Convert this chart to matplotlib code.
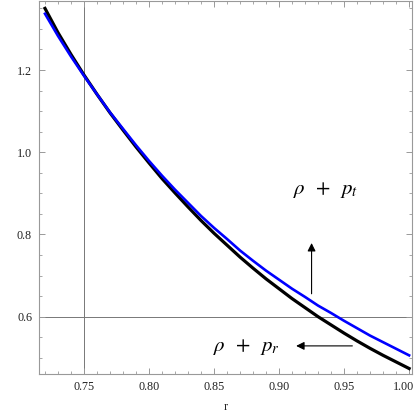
import numpy as np
import matplotlib
matplotlib.use('Agg')
import matplotlib.pyplot as plt
import matplotlib.transforms as mtransforms
from matplotlib.ticker import MultipleLocator

r = [0.72, 0.73, 0.74, 0.75, 0.76, 0.77, 0.78, 0.79, 0.80, 0.81,
     0.82, 0.83, 0.84, 0.85, 0.86, 0.87, 0.88, 0.89, 0.90, 0.91,
     0.92, 0.93, 0.94, 0.95, 0.96, 0.97, 0.98, 0.99, 1.00]
rho_pr = [1.350, 1.291, 1.238, 1.188, 1.141, 1.096, 1.054, 1.013, 0.974, 0.936,
          0.901, 0.867, 0.834, 0.803, 0.774, 0.745, 0.718, 0.692, 0.668, 0.644,
          0.622, 0.600, 0.580, 0.560, 0.541, 0.523, 0.506, 0.490, 0.474]
rho_pt = [1.337, 1.283, 1.233, 1.186, 1.141, 1.097, 1.057, 1.017, 0.979, 0.943,
          0.909, 0.877, 0.845, 0.816, 0.789, 0.761, 0.736, 0.712, 0.690, 0.668,
          0.648, 0.627, 0.609, 0.590, 0.572, 0.554, 0.538, 0.522, 0.506]
xticks = [0.75, 0.80, 0.85, 0.90, 0.95, 1.00]
yticks = [0.6, 0.8, 1.0, 1.2]

plt.rcParams['font.family'] = 'Liberation Serif'
plt.rcParams['mathtext.fontset'] = 'stix'

fig = plt.figure(figsize=(4.15, 4.12), dpi=100)
ax = fig.add_axes([0.094, 0.0922, 0.899, 0.9054])

frame = '#999999'
ax.axvline(0.75, color='#777777', lw=0.7, zorder=1)
ax.axhline(0.6, color='#777777', lw=0.7, zorder=1)

ax.plot(r, rho_pr, color='black', lw=2.3, zorder=3)
ax.plot(r, rho_pt, color='#0000ff', lw=1.9, zorder=4)

ax.set_xlim(0.7154, 1.0023)
ax.set_ylim(0.4606, 1.368)

ax.set_xticks(xticks, ['%.2f' % v for v in xticks])
ax.set_yticks(yticks, ['%.1f' % v for v in yticks])
ax.xaxis.set_minor_locator(MultipleLocator(0.01))
ax.yaxis.set_minor_locator(MultipleLocator(0.05))

ax.tick_params(which='both', direction='in', top=True, right=True,
               color=frame, labelsize=8.7, labelcolor='#222222')
ax.tick_params(which='major', length=4, width=0.7, pad=5)
ax.tick_params(which='minor', length=2.2, width=0.6)
for s in ax.spines.values():
    s.set_color(frame)
    s.set_linewidth(0.8)

# keep the last x label inside the figure
last = ax.xaxis.get_major_ticks()[-1].label1
last.set_transform(last.get_transform() +
                   mtransforms.ScaledTranslation(-0.055, 0, fig.dpi_scale_trans))

ax.set_xlabel('r', fontsize=8.7, labelpad=6, color='#222222')

# labels and arrows
ax.text(0.911, 0.908, r'$\rho\;\;+\;\;p_t$', fontsize=15, va='center', ha='left')
ax.annotate('', xy=(0.925, 0.786), xytext=(0.925, 0.649),
            arrowprops=dict(arrowstyle='-|>', color='black', lw=0.8,
                            mutation_scale=12))
ax.text(0.849, 0.527, r'$\rho\;\;+\;\;p_r$', fontsize=15, va='center', ha='left')
ax.annotate('', xy=(0.911, 0.529), xytext=(0.9585, 0.529),
            arrowprops=dict(arrowstyle='-|>', color='black', lw=0.8,
                            mutation_scale=12))

fig.savefig('out.png', dpi=100)
